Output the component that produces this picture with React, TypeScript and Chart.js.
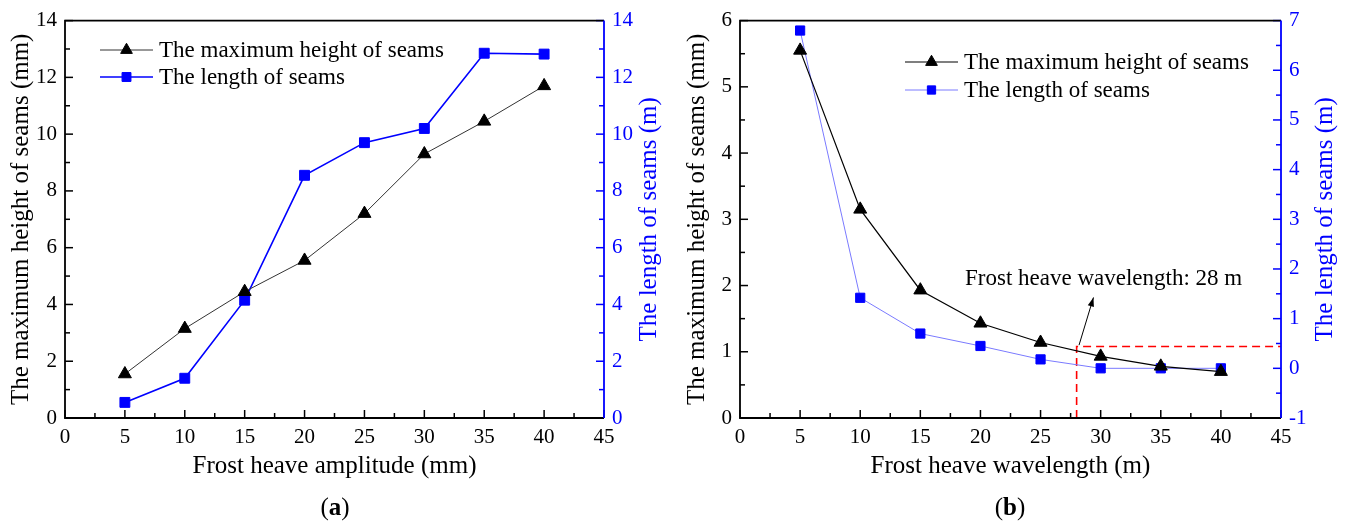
import React, { useEffect, useRef } from "react";
import { Chart, registerables } from "chart.js";
import { drawPoint } from "chart.js/helpers";

Chart.register(...registerables);

const FONT = "'Liberation Serif', 'Times New Roman', Times, serif";
Chart.defaults.font.family = FONT;

// ---------- Panel (a): frost heave amplitude ----------
const AMPLITUDE_MM = [5, 10, 15, 20, 25, 30, 35, 40];
const A_MAX_HEIGHT_MM = [1.55, 3.15, 4.45, 5.55, 7.2, 9.3, 10.45, 11.7];
const A_LENGTH_M = [0.55, 1.4, 4.15, 8.55, 9.7, 10.2, 12.85, 12.82];

// ---------- Panel (b): frost heave wavelength ----------
const WAVELENGTH_M = [5, 10, 15, 20, 25, 30, 35, 40];
const B_MAX_HEIGHT_MM = [5.55, 3.15, 1.93, 1.43, 1.14, 0.93, 0.78, 0.7];
const B_LENGTH_M = [6.8, 1.42, 0.7, 0.45, 0.18, 0.0, 0.0, 0.0];

// marker of the 28 m wavelength (x values, right-axis y values)
const MARK_X = [28, 28, 45];
const MARK_Y = [-1, 0.44, 0.44];
// arrow of the annotation, in data units (x, left-axis y)
const ARROW_FROM = [28.2, 1.1];
const ARROW_TO = [29.4, 1.82];
const ANNOTATION = "Frost heave wavelength: 28 m";

const LEGEND_LABELS = ["The maximum height of seams", "The length of seams"];

const TICK_SIZE = 21;

const toPoints = (xs: number[], ys: number[]) => xs.map((x, i) => ({ x, y: ys[i] }));

const decoPlugin = {
  id: "deco",
  afterDatasetsDraw(chart: any) {
    const o = chart.options.plugins.deco;
    const { ctx, chartArea: ca } = chart;
    const sx = chart.scales.x, sy = chart.scales.y, sy1 = chart.scales.y1;
    ctx.save();
    // annotation arrow
    if (o.arrow) {
      const x0 = sx.getPixelForValue(o.arrow.from[0]);
      const y0 = sy.getPixelForValue(o.arrow.from[1]);
      const x1 = sx.getPixelForValue(o.arrow.to[0]);
      const y1 = sy.getPixelForValue(o.arrow.to[1]);
      ctx.strokeStyle = "#000";
      ctx.fillStyle = "#000";
      ctx.lineWidth = 1;
      ctx.beginPath();
      ctx.moveTo(x0, y0);
      ctx.lineTo(x1, y1);
      ctx.stroke();
      const ang = Math.atan2(y1 - y0, x1 - x0);
      const L = 9, W = 3.2;
      ctx.beginPath();
      ctx.moveTo(x1, y1);
      ctx.lineTo(x1 - L * Math.cos(ang) + W * Math.sin(ang), y1 - L * Math.sin(ang) - W * Math.cos(ang));
      ctx.lineTo(x1 - L * Math.cos(ang) - W * Math.sin(ang), y1 - L * Math.sin(ang) + W * Math.cos(ang));
      ctx.closePath();
      ctx.fill();
      ctx.font = `23px ${FONT}`;
      ctx.textAlign = "left";
      ctx.textBaseline = "middle";
      ctx.fillText(o.annotation, o.annotationPos[0], o.annotationPos[1]);
    }
    // ticks (inward, major + minor)
    const drawTicks = (scale: any, color: string, side: string) => {
      const vals = scale.ticks.map((t: any) => t.value);
      ctx.strokeStyle = color;
      ctx.lineWidth = 1.5;
      const one = (v: number, len: number) => {
        const p = scale.getPixelForValue(v);
        ctx.beginPath();
        if (side === "bottom") { ctx.moveTo(p, ca.bottom); ctx.lineTo(p, ca.bottom - len); }
        else if (side === "left") { ctx.moveTo(ca.left, p); ctx.lineTo(ca.left + len, p); }
        else { ctx.moveTo(ca.right, p); ctx.lineTo(ca.right - len, p); }
        ctx.stroke();
      };
      for (let i = 0; i < vals.length; i++) {
        one(vals[i], 8);
        if (i < vals.length - 1) one((vals[i] + vals[i + 1]) / 2, 5);
      }
    };
    drawTicks(sx, "#000", "bottom");
    drawTicks(sy, "#000", "left");
    drawTicks(sy1, "#0000ff", "right");
    // frame
    ctx.lineWidth = 1.8;
    ctx.strokeStyle = "#000";
    ctx.beginPath();
    ctx.moveTo(ca.right, ca.top);
    ctx.lineTo(ca.left, ca.top);
    ctx.lineTo(ca.left, ca.bottom);
    ctx.lineTo(ca.right, ca.bottom);
    ctx.stroke();
    ctx.strokeStyle = "#0000ff";
    ctx.beginPath();
    ctx.moveTo(ca.right, ca.top);
    ctx.lineTo(ca.right, ca.bottom);
    ctx.stroke();
    // legend
    const lg = o.legend;
    ctx.font = `23px ${FONT}`;
    ctx.textAlign = "left";
    ctx.textBaseline = "middle";
    [0, 1].forEach((i) => {
      const ds = chart.data.datasets[i];
      const y = lg.y + i * lg.gap;
      ctx.strokeStyle = ds.borderColor;
      ctx.lineWidth = ds.borderWidth;
      ctx.beginPath();
      ctx.moveTo(lg.x, y);
      ctx.lineTo(lg.x + 53, y);
      ctx.stroke();
      ctx.fillStyle = ds.pointBackgroundColor;
      ctx.strokeStyle = ds.pointBorderColor;
      ctx.lineWidth = 1;
      drawPoint(ctx, { pointStyle: ds.pointStyle, radius: ds.pointRadius * 0.9, rotation: 0, borderWidth: 1 }, lg.x + 26.5, y);
      ctx.fillStyle = "#000";
      ctx.fillText(ds.label, lg.x + 59, y + 1);
    });
    // right axis title (rotated, reading upward)
    ctx.save();
    ctx.translate(o.rightTitleX, (ca.top + ca.bottom) / 2);
    ctx.rotate(-Math.PI / 2);
    ctx.fillStyle = "#0000ff";
    ctx.font = `25px ${FONT}`;
    ctx.textAlign = "center";
    ctx.textBaseline = "middle";
    ctx.fillText(o.rightTitle, 0, 0);
    ctx.restore();
    ctx.restore();
  },
};

type PanelProps = {
  xs: number[];
  hs: number[];
  ls: number[];
  xTitle: string;
  yMax: number;
  yStep: number;
  y1Min: number;
  y1Max: number;
  leftW: number;
  rightW: number;
  leftTitlePad: number;
  rightTitleX: number;
  legend: { x: number; y: number; gap: number };
  thinBlue: boolean;
  marker: boolean;
};

function Panel(p: PanelProps) {
  const ref = useRef<HTMLCanvasElement>(null);
  useEffect(() => {
    const datasets: any[] = [
      {
        label: LEGEND_LABELS[0],
        data: toPoints(p.xs, p.hs),
        yAxisID: "y",
        borderColor: p.thinBlue ? "#000000" : "#333333",
        borderWidth: p.thinBlue ? 1.2 : 1,
        pointStyle: "triangle",
        pointRadius: 7.5,
        pointBackgroundColor: "#000",
        pointBorderColor: "#000",
        pointBorderWidth: 1,
        tension: 0,
        clip: false,
      },
      {
        label: LEGEND_LABELS[1],
        data: toPoints(p.xs, p.ls),
        yAxisID: "y1",
        borderColor: p.thinBlue ? "#7a7aff" : "#0000ff",
        borderWidth: p.thinBlue ? 1 : 1.6,
        pointStyle: "rect",
        pointRadius: p.thinBlue ? 6.5 : 7,
        pointBackgroundColor: "#0000ff",
        pointBorderColor: "#0000ff",
        pointBorderWidth: 1,
        tension: 0,
        clip: false,
      },
    ];
    if (p.marker) {
      datasets.push({
        label: "marker",
        data: toPoints(MARK_X, MARK_Y),
        yAxisID: "y1",
        borderColor: "#ff0000",
        borderWidth: 1.6,
        borderDash: [8, 5],
        pointRadius: 0,
        tension: 0,
        order: 5,
      });
    }
    const tickFont = { size: TICK_SIZE, family: FONT };
    const chart = new Chart(ref.current!, {
      type: "line",
      data: { datasets },
      plugins: [decoPlugin],
      options: {
        responsive: false,
        animation: false,
        devicePixelRatio: 1,
        layout: { padding: { top: 19, left: 0, right: 0, bottom: 0 } },
        plugins: {
          legend: { display: false },
          tooltip: { enabled: false },
          deco: {
            legend: p.legend,
            rightTitle: "The length of seams (m)",
            rightTitleX: p.rightTitleX,
            arrow: p.marker ? { from: ARROW_FROM, to: ARROW_TO } : null,
            annotation: ANNOTATION,
            annotationPos: [285, 279],
          },
        } as any,
        scales: {
          x: {
            type: "linear",
            min: 0,
            max: 45,
            ticks: { stepSize: 5, color: "#000", font: tickFont, padding: 7, maxRotation: 0 },
            grid: { display: false, drawTicks: false },
            border: { display: false },
            title: {
              display: true,
              text: p.xTitle,
              color: "#000",
              font: { size: 25, family: FONT },
              padding: { top: 0, bottom: 46 },
            },
            afterFit: (s: any) => { s.height = 109; },
          },
          y: {
            type: "linear",
            position: "left",
            min: 0,
            max: p.yMax,
            ticks: { stepSize: p.yStep, color: "#000", font: tickFont, padding: 8 },
            grid: { display: false, drawTicks: false },
            border: { display: false },
            title: {
              display: true,
              text: "The maximum height of seams (mm)",
              color: "#000",
              font: { size: 25, family: FONT },
              padding: { top: p.leftTitlePad, bottom: 0 },
            },
            afterFit: (s: any) => { s.width = p.leftW; },
          },
          y1: {
            type: "linear",
            position: "right",
            min: p.y1Min,
            max: p.y1Max,
            ticks: { stepSize: p.yStep === 2 ? 2 : 1, color: "#0000ff", font: tickFont, padding: 8 },
            grid: { display: false, drawTicks: false },
            border: { display: false },
            afterFit: (s: any) => { s.width = p.rightW; },
          },
        } as any,
      },
    });
    return () => chart.destroy();
  }, []);
  return <canvas ref={ref} width={668} height={527} style={{ display: "block", width: 668, height: 527 }} />;
}

const capStyle: React.CSSProperties = {
  position: "absolute",
  top: 492,
  width: 100,
  textAlign: "center",
  fontFamily: FONT,
  fontSize: 25,
  lineHeight: "30px",
  color: "#000",
};

export default function App() {
  return (
    <div style={{ position: "fixed", left: 0, top: 0, width: 1348, height: 527, background: "#fff", overflow: "hidden" }}>
      <div style={{ position: "absolute", left: 0, top: 0 }}>
        <Panel
          xs={AMPLITUDE_MM}
          hs={A_MAX_HEIGHT_MM}
          ls={A_LENGTH_M}
          xTitle="Frost heave amplitude (mm)"
          yMax={14}
          yStep={2}
          y1Min={0}
          y1Max={14}
          leftW={65}
          rightW={64}
          leftTitlePad={6}
          rightTitleX={649}
          legend={{ x: 100, y: 50, gap: 27 }}
          thinBlue={false}
          marker={false}
        />
      </div>
      <div style={{ position: "absolute", left: 680, top: 0 }}>
        <Panel
          xs={WAVELENGTH_M}
          hs={B_MAX_HEIGHT_MM}
          ls={B_LENGTH_M}
          xTitle="Frost heave wavelength (m)"
          yMax={6}
          yStep={1}
          y1Min={-1}
          y1Max={7}
          leftW={60}
          rightW={67}
          leftTitlePad={2}
          rightTitleX={645}
          legend={{ x: 225, y: 62, gap: 28 }}
          thinBlue={true}
          marker={true}
        />
      </div>
      <div style={{ ...capStyle, left: 285 }}>(<b>a</b>)</div>
      <div style={{ ...capStyle, left: 960 }}>(<b>b</b>)</div>
    </div>
  );
}
